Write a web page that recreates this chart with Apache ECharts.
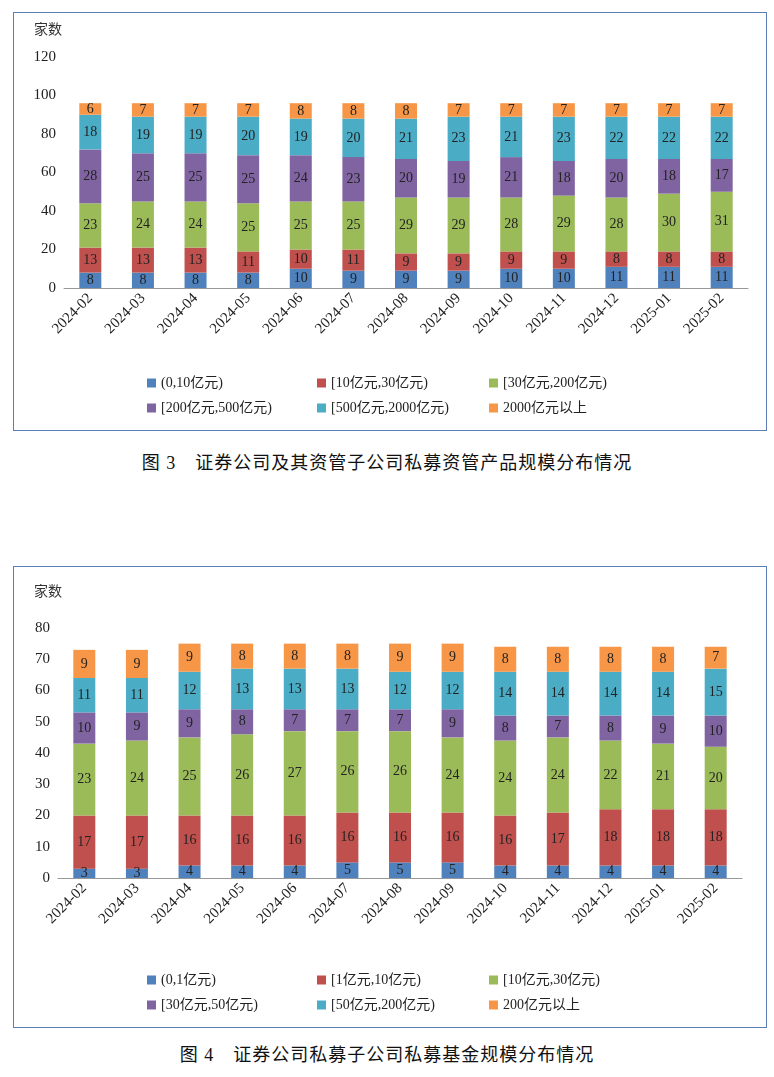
<!DOCTYPE html>
<html>
<head>
<meta charset="utf-8">
<script src="https://cdn.jsdelivr.net/npm/echarts@6/dist/echarts.min.js"></script>
<style>
body{margin:0;background:#fff;font-family:"Liberation Serif","Noto Sans CJK SC";}
.box{position:absolute;left:13px;width:754px;border:1px solid #5b7fb5;box-sizing:border-box;}
.cap{position:absolute;left:0;width:774px;text-align:center;font-size:18px;letter-spacing:1px;color:#111;}
</style>
</head>
<body>
<div id="c1" class="box" style="top:12px;height:419px;"></div>
<div class="cap" style="top:448px;">图 3　证券公司及其资管子公司私募资管产品规模分布情况</div>
<div id="c2" class="box" style="top:566px;height:462px;"></div>
<div class="cap" style="top:1040px;">图 4　证券公司私募子公司私募基金规模分布情况</div>
<script>
var months = ["2024-02","2024-03","2024-04","2024-05","2024-06","2024-07","2024-08","2024-09","2024-10","2024-11","2024-12","2025-01","2025-02"]
var colors = ["#4F81BD","#C0504D","#9BBB59","#8064A2","#4BACC6","#F79646"]
var font = "Liberation Serif, Noto Sans CJK SC"

// 图3
var names1 = ["(0,10亿元)","[10亿元,30亿元)","[30亿元,200亿元)","[200亿元,500亿元)","[500亿元,2000亿元)","2000亿元以上"]
var data1 = [
  [8,8,8,8,10,9,9,9,10,10,11,11,11],
  [13,13,13,11,10,11,9,9,9,9,8,8,8],
  [23,24,24,25,25,25,29,29,28,29,28,30,31],
  [28,25,25,25,24,23,20,19,21,18,20,18,17],
  [18,19,19,20,19,20,21,23,21,23,22,22,22],
  [6,7,7,7,8,8,8,7,7,7,7,7,7]
]
// 图4
var names2 = ["(0,1亿元)","[1亿元,10亿元)","[10亿元,30亿元)","[30亿元,50亿元)","[50亿元,200亿元)","200亿元以上"]
var data2 = [
  [3,3,4,4,4,5,5,5,4,4,4,4,4],
  [17,17,16,16,16,16,16,16,16,17,18,18,18],
  [23,24,25,26,27,26,26,24,24,24,22,21,20],
  [10,9,9,8,7,7,7,9,8,7,8,9,10],
  [11,11,12,13,13,13,12,12,14,14,14,14,15],
  [9,9,9,8,8,8,9,9,8,8,8,8,7]
]

function build(el, names, data, grid, yMax, yInt, legTop, nameTop){
  var c = echarts.init(document.getElementById(el))
  var legends = []
  var lx = [128, 298, 470]
  names.forEach(function(n, i){
    legends.push({
      data: [n], left: lx[i % 3], top: legTop + (i < 3 ? 0 : 25),
      itemWidth: 9, itemHeight: 9, icon: "rect",
      textStyle: {fontFamily: font, fontSize: 14, color: "#222"}
    })
  })
  c.setOption({
    animation: false,
    color: colors,
    textStyle: {fontFamily: font},
    grid: grid,
    legend: legends,
    graphic: [{type: "text", left: 20, top: nameTop, style: {text: "家数", fontFamily: font, fontSize: 14, fill: "#333"}}],
    xAxis: {
      type: "category", data: months,
      axisLine: {lineStyle: {color: "#999"}}, axisTick: {show: false},
      axisLabel: {rotate: 45, color: "#222", fontSize: 15, fontFamily: font, margin: 8}
    },
    yAxis: {
      type: "value", min: 0, max: yMax, interval: yInt,
      splitLine: {show: false}, axisLine: {show: false}, axisTick: {show: false},
      axisLabel: {color: "#222", fontSize: 15, fontFamily: font}
    },
    series: names.map(function(n, i){
      return {
        name: n, type: "bar", stack: "a", data: data[i], barWidth: 22,
        label: {show: true, color: "#222", fontSize: 14, fontFamily: font}
      }
    })
  })
}
build("c1", names1, data1, {left: 50, right: 18, top: 44, bottom: 142}, 120, 20, 358, 10)
build("c2", names2, data2, {left: 44, right: 24, top: 61, bottom: 149}, 80, 10, 401, 18)
</script>
</body>
</html>
